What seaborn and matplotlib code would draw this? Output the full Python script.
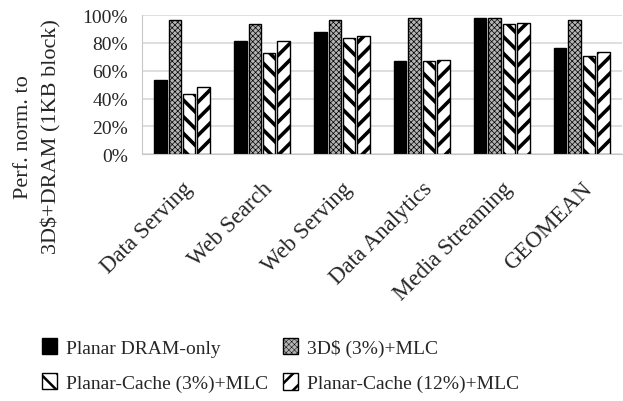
import pandas as pd
import seaborn as sns
import matplotlib.pyplot as plt
from matplotlib.patches import Patch
from matplotlib.ticker import PercentFormatter

# values (percent)
workloads = ["Data Serving", "Web Search", "Web Serving", "Data Analytics",
             "Media Streaming", "GEOMEAN"]
configs = ["Planar DRAM-only", "3D\\$ (3%)+MLC", "Planar-Cache (3%)+MLC",
           "Planar-Cache (12%)+MLC"]
planar_dram = [53, 81.5, 88, 67, 98, 76]
cache_3d = [96.5, 93.5, 96.5, 97.8, 97.8, 96.5]
planar_cache_3 = [43.5, 72.5, 83.5, 67, 93.5, 70.5]
planar_cache_12 = [48.3, 81.3, 84.7, 68, 94.5, 73.8]

df = pd.DataFrame({
    "workload": workloads * 4,
    "config": [c for c in configs for _ in workloads],
    "perf": planar_dram + cache_3d + planar_cache_3 + planar_cache_12,
})

sns.set_style("white")
plt.rcParams["font.family"] = ["Liberation Serif", "DejaVu Serif"]
plt.rcParams["hatch.linewidth"] = 2.5

fig = plt.figure(figsize=(6.23, 4.02), dpi=100)
ax = fig.add_axes([0.228, 0.614, 0.770, 0.346])

faces = ["black", "#b4b4b4", "white", "white"]
hatches = [None, "xxxxxx", "\\\\", "//"]
hatch_lw = [1.0, 0.5, 2.6, 2.6]

sns.barplot(data=df, x="workload", y="perf", hue="config", hue_order=configs,
            palette=["black"] * 4, width=0.72, gap=0.14, legend=False, ax=ax,
            edgecolor="black", linewidth=1.0)

for i, cont in enumerate(ax.containers):
    for bar in cont:
        bar.set_facecolor(faces[i])
        bar.set_edgecolor("black")
        if hatches[i]:
            bar.set_hatch(hatches[i])
            if hasattr(bar, "set_hatch_linewidth"):
                bar.set_hatch_linewidth(hatch_lw[i])

ax.set_ylim(0, 100)
ax.set_yticks(range(0, 101, 20))
ax.yaxis.set_major_formatter(PercentFormatter(decimals=0))
ax.grid(axis="y", color="#d9d9d9", linewidth=1.2)
ax.set_axisbelow(True)
for s in ax.spines.values():
    s.set_color("#c8c8c8")
ax.spines["top"].set_visible(False)
ax.spines["right"].set_visible(False)
ax.tick_params(axis="y", length=0, labelsize=14, pad=10)
ax.tick_params(axis="x", length=0, labelsize=16.5, pad=17)
ax.set_xlabel("")
ax.set_ylabel("")
plt.setp(ax.get_xticklabels(), rotation=45, ha="right", va="top",
         rotation_mode="anchor")

fig.text(38 / 623, 1 - 137 / 402, "Perf. norm. to\n3D\\$+DRAM (1KB block)",
         rotation=90, ha="center", va="center", fontsize=16, linespacing=1.55)

handles = [Patch(facecolor=faces[i], edgecolor="black", hatch=hatches[i], label=c)
           for i, c in enumerate(configs)]
# row-major order like the reference legend
order = [0, 2, 1, 3]
leg = fig.legend(handles=[handles[k] for k in order], loc="upper left",
                 bbox_to_anchor=(0.068, 1 - 339 / 402), ncol=2, frameon=False,
                 fontsize=14, handlelength=0.75, handleheight=0.9,
                 handletextpad=0.45, columnspacing=0.8, labelspacing=0.85,
                 borderpad=0, borderaxespad=0)
for k, p in zip(order, leg.get_patches()):
    if hasattr(p, "set_hatch_linewidth"):
        p.set_hatch_linewidth(hatch_lw[k] * 0.7)

fig.savefig("out.png", dpi=100)
